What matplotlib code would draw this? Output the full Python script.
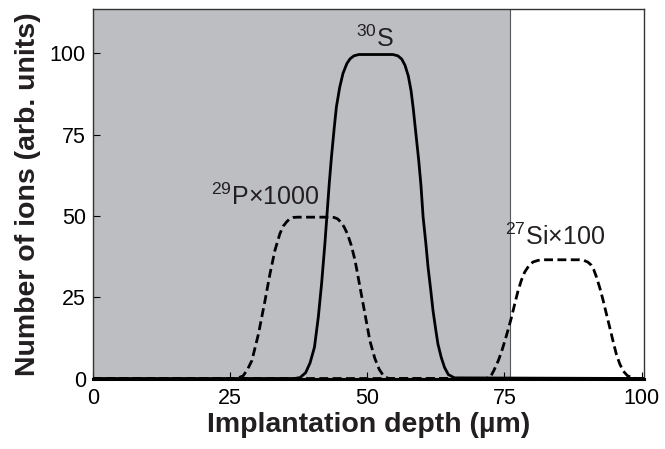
import matplotlib
matplotlib.use("Agg")
import matplotlib.pyplot as plt

plt.rcParams['font.family'] = ['Liberation Sans', 'DejaVu Sans']
plt.rcParams['mathtext.fontset'] = 'custom'
plt.rcParams['mathtext.rm'] = 'Liberation Sans'

# 29P x1000 profile (dashed)
p_depth = [0, 26.2, 27.4, 28.2, 29.0, 30.2, 31.4, 32.3, 33.2, 34.1, 34.7, 35.3, 35.9, 36.5, 37.3,
           43.3, 44.0, 44.6, 45.2, 45.8, 46.4, 47.1, 47.8, 48.7, 49.6, 50.5, 51.4, 52.2, 53.0, 53.9, 100.5]
p_ions = [0, 0, 0.8, 2.8, 5.5, 13.7, 24.0, 32.2, 39.4, 44.5, 46.8, 48.1, 49.1, 49.5, 49.6,
          49.6, 49.5, 49.1, 48.1, 46.6, 44.5, 41.0, 36.3, 28.1, 19.9, 11.6, 6.2, 2.8, 0.8, 0, 0]

# 30S profile (solid)
s_depth = [0, 36.8, 37.8, 38.8, 39.6, 40.4, 41.1, 41.7, 42.3, 42.7, 43.1, 43.5, 44.0, 44.4, 45.0,
           45.6, 46.3, 46.9, 47.6, 48.5, 54.7, 55.6, 56.3, 56.9, 57.5, 58.0, 58.4, 58.9, 59.4, 59.8,
           60.2, 60.7, 61.1, 61.6, 62.0, 62.5, 62.9, 63.5, 64.1, 64.8, 65.9, 100.5]
s_ions = [0, 0, 0.3, 1.8, 4.8, 9.6, 18.8, 29.1, 41.4, 50.7, 60.0, 68.1, 77.0, 83.5, 89.5,
          93.8, 96.8, 98.3, 99.2, 99.6, 99.6, 99.2, 98.2, 96.3, 93.0, 88.5, 83.0, 75.0, 67.0, 59.5,
          49.6, 41.5, 34.2, 27.0, 20.9, 15.0, 10.6, 6.5, 3.4, 1.2, 0.2, 0]

# 27Si x100 profile (dashed)
si_depth = [0, 71.5, 72.4, 73.1, 73.9, 74.5, 75.1, 75.7, 76.3, 76.9, 77.5, 78.1, 78.7, 79.4, 80.2,
            81.1, 82.0, 88.6, 89.5, 90.2, 90.8, 91.3, 91.8, 92.4, 93.0, 93.6, 94.2, 94.8, 95.4,
            96.0, 96.6, 97.4, 98.2, 99.0, 100.5]
si_ions = [0, 0, 0.3, 2.5, 5.5, 8.3, 11.6, 15.1, 18.8, 23.0, 27.0, 30.2, 32.7, 34.5, 35.8,
           36.3, 36.5, 36.5, 36.3, 35.8, 34.9, 33.4, 31.1, 27.8, 24.0, 19.8, 15.7, 11.5, 7.5,
           4.6, 2.4, 0.9, 0.3, 0, 0]

shaded_end = 76.0
x_ticks = [0, 25, 50, 75, 100]
y_ticks = [0, 25, 50, 75, 100]

fig = plt.figure(figsize=(6.65, 4.49), dpi=100, facecolor='w')
ax = fig.add_axes([0.1394, 0.157, 0.8295, 0.823])

# shaded region
ax.axvspan(0, shaded_end, color='#bdbec2', lw=0, zorder=0)
ax.axvline(shaded_end, color='#555555', lw=0.8, zorder=1)

ax.plot(s_depth, s_ions, '-', color='k', lw=2.0, zorder=3)
ax.plot(p_depth, p_ions, '--', color='k', lw=2.0, dashes=(3.2, 1.6), zorder=3)
ax.plot(si_depth, si_ions, '--', color='k', lw=2.0, dashes=(3.2, 1.6), zorder=3)

txt = '#231f20'
ax.text(51.4, 102.0, r'$^{30}$S', fontsize=18, color=txt, ha='center', va='baseline')
ax.text(31.4, 53.2, r'$^{29}$P×1000', fontsize=18, color=txt, ha='center', va='baseline')
ax.text(84.2, 40.9, r'$^{27}$Si×100', fontsize=18, color=txt, ha='center', va='baseline')

ax.set_xlim(0, 100.5)
ax.set_ylim(0, 113.6)
ax.set_xticks(x_ticks)
ax.set_yticks(y_ticks)
ax.tick_params(direction='in', length=5, width=0.8, labelsize=15.5, colors='k')
ax.tick_params(axis='x', pad=7)
ax.tick_params(axis='y', pad=5)

for side in ['left', 'top', 'right']:
    ax.spines[side].set_linewidth(1.0)
    ax.spines[side].set_color('#333333')
ax.spines['bottom'].set_linewidth(2.2)
ax.spines['bottom'].set_color('k')

ax.set_xlabel('Implantation depth (µm)', fontsize=20.5, fontweight='bold', color=txt, labelpad=2)
ax.set_ylabel('Number of ions (arb. units)', fontsize=20.5, fontweight='bold', color=txt, labelpad=6)

plt.savefig("out.png", dpi=100)
